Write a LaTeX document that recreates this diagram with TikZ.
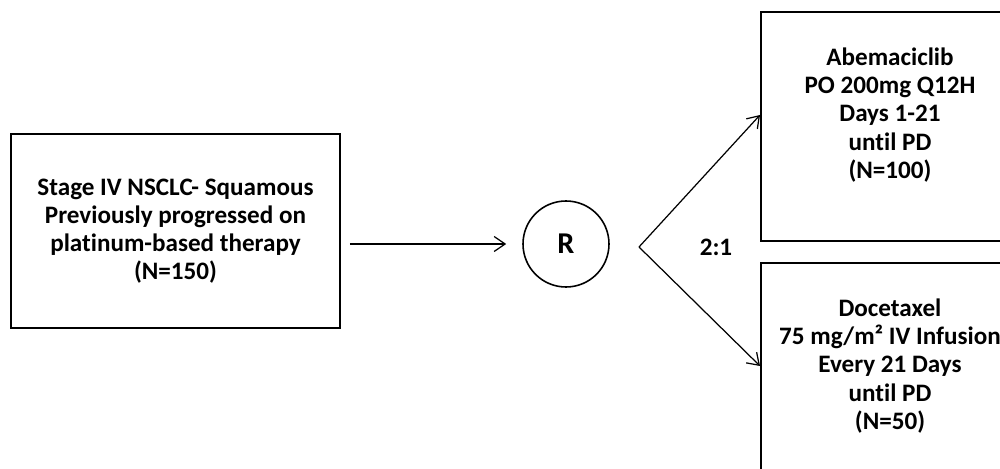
\documentclass[tikz,border=0pt]{standalone}
\usepackage{fontspec}
\setmainfont{Carlito}[Ligatures={NoCommon}]
\usetikzlibrary{arrows.meta, positioning}

\tikzset{
  armbox/.style={draw, line width=1pt, rectangle, anchor=north west, minimum width=5.2cm, inner sep=0pt},
  armtext/.style={align=center, font=\bfseries\fontsize{14.3}{16}\selectfont},
  flow/.style={line width=0.7pt, -{Straight Barb[length=2.2mm, width=3mm]}}
}

\begin{document}
\begin{tikzpicture}
\useasboundingbox (0,0) rectangle (20,9.38);
\clip (0,0) rectangle (20,9.38);
\fill[white] (0,0) rectangle (20,9.38);

\node[draw, line width=1pt, rectangle, minimum width=6.58cm, minimum height=3.88cm, armtext] (stage) at (3.51,4.76) {Stage IV NSCLC- Squamous\\Previously progressed on\\platinum-based therapy\\(N=150)};

\node[draw, line width=0.9pt, circle, minimum size=1.72cm, inner sep=0pt, font=\bfseries\fontsize{17.2}{19}\selectfont] (rand) at (11.32,4.5) {R};

\coordinate (split) at (12.78,4.44);

\node[armbox, minimum height=4.58cm] (abema) at (15.2,9.16) {};
\node[armtext] (abematext) at (17.8,7.08) {Abemaciclib\\PO 200mg Q12H\\Days 1-21\\until PD\\(N=100)};

\node[armbox, minimum height=4.8cm] (doce) at (15.2,4.14) {};
\node[armtext] (docetext) at (17.8,2.06) {Docetaxel\\75 mg/m² IV Infusion\\Every 21 Days\\until PD\\(N=50)};

\node[armtext] (ratio) at (14.32,4.44) {2:1};

\draw[flow, shorten <=0.18cm, shorten >=0.32cm] (stage.east |- rand) -- (rand.west);
\draw[flow] (split) -- (abema.west |- abematext);
\draw[flow] (split) -- (doce.west |- docetext);

\end{tikzpicture}
\end{document}
